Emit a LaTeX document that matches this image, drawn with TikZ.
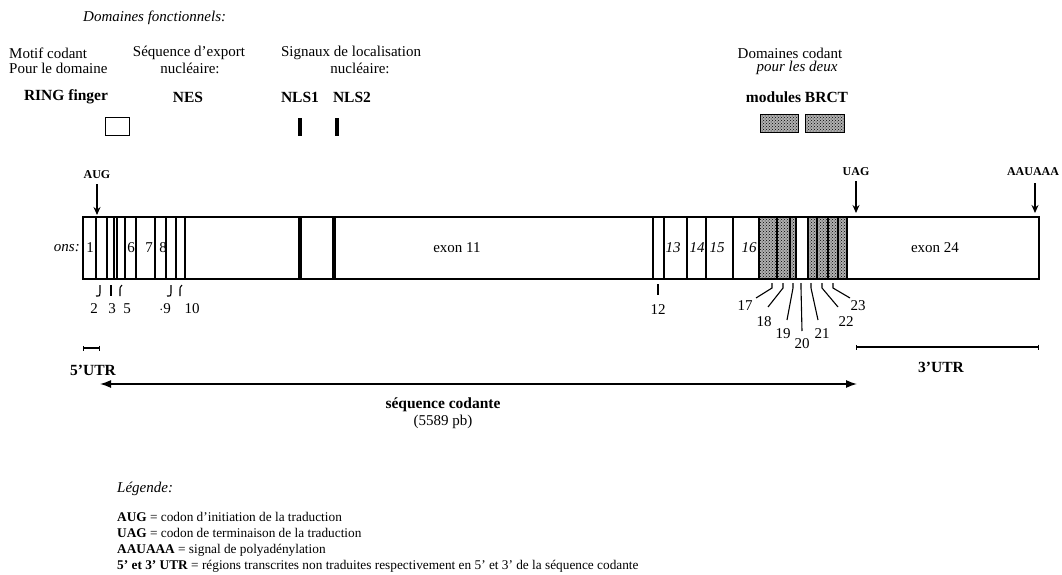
\documentclass[tikz,border=0pt]{standalone}
\usepackage{fontspec}
\setmainfont{Liberation Serif}
\usetikzlibrary{arrows.meta,patterns}
\begin{document}
\begin{tikzpicture}[x=1pt,y=-1pt,
  every node/.style={inner sep=0pt, font=\fontsize{15}{16}\selectfont},
  bl/.style={font=\fontsize{15.5}{16}\selectfont\bfseries},
  it/.style={font=\fontsize{15}{16}\selectfont\itshape},
  small/.style={font=\fontsize{12}{13}\selectfont\bfseries},
  leg/.style={anchor=west, font=\fontsize{13.3}{15}\selectfont},
  shade/.style={preaction={fill=gray!62}, pattern=crosshatch dots, pattern color=black},
  thin line/.style={line width=1.1pt},
  marker/.style={-{Stealth[length=8pt,width=7pt]}, line width=1.4pt},
]
\useasboundingbox (0,0) rectangle (1062,575);

% ---------- header ----------
\node[it, anchor=west] (df) at (83,18) {Domaines fonctionnels:};
\node[anchor=west] (mc) at (9,53) {Motif codant};
\node[anchor=west] (pd) at (9,68) {Pour le domaine};
\node (se) at (189,53) {Séquence d’export};
\node (nu1) at (190,68) {nucléaire:};
\node (sl) at (351,53) {Signaux de localisation};
\node (nu2) at (360,68) {nucléaire:};
\node (dc) at (790,53) {Domaines codant};
\node[it] (pld) at (797,68) {pour les deux};
\node[bl] (ring) at (66,97) {RING finger};
\node[bl] (nes) at (188,97) {NES};
\node[bl] (nls1) at (300,97) {NLS1};
\node[bl] (nls2) at (352,97) {NLS2};
\node[bl] (brct) at (797,97) {modules BRCT};

% domain icons
\draw[line width=1pt] (105,118) rectangle (129,135);
\fill (298,118) rectangle (302,136);
\fill (335,118) rectangle (339,136);
\draw[shade, line width=0.8pt] (760,114) rectangle (798,132);
\draw[shade, line width=0.8pt] (805,114) rectangle (844,132);

% ---------- main transcript ----------
\draw[shade] (759,217) rectangle (796,279);
\draw[shade] (808,217) rectangle (847,279);
\foreach \x in {96,107,114,117,125,136,155,166,176,185,653,664,687,706,733,759,777,790,796,808,817,828,838,847}
  \draw[thin line] (\x,217) -- (\x,279);
\fill (298,217) rectangle (302,279);
\fill (332,217) rectangle (336,279);
\draw[line width=1.3pt] (83,217) rectangle (1039,279);

\node[it, anchor=east] (ons) at (80,248) {ons:};
\node (e1) at (90,248) {1};
\node (e6) at (131,248) {6};
\node (e7) at (149,248) {7};
\node (e8) at (163,248) {8};
\node (e11) at (457,248) {exon 11};
\node[it] (e13) at (673,248) {13};
\node[it] (e14) at (697,248) {14};
\node[it] (e15) at (717,248) {15};
\node[it] (e16) at (749,248) {16};
\node (e24) at (935,248) {exon 24};

% small brackets under the first exons
\draw[line width=1.1pt] (100,285) -- (100,293) .. controls (100,296) .. (96,296);
\draw[line width=1.1pt] (111,285) -- (111,296);
\draw[line width=1.1pt] (122,285) .. controls (120,287) .. (120,291) -- (120,296);
\draw[line width=1.1pt] (171,285) -- (171,293) .. controls (171,296) .. (167,296);
\draw[line width=1.1pt] (182,285) .. controls (180,287) .. (180,291) -- (180,296);
\node (n2) at (94,309) {2};
\node (n3) at (112,309) {3};
\node (n5) at (127,309) {5};
\node (n9) at (165,309) {$\cdot$9};
\node (n10) at (192,309) {10};

\draw[line width=1.1pt] (658,284) -- (658,295);
\node (n12) at (658,310) {12};

% leader lines 17-23
\coordinate (t17) at (772,283); \coordinate (b17) at (756,298);
\coordinate (t18) at (783,283); \coordinate (b18) at (768,307);
\coordinate (t19) at (793,283); \coordinate (b19) at (787,320);
\coordinate (t20) at (801,283); \coordinate (b20) at (802,331);
\coordinate (t21) at (811,283); \coordinate (b21) at (818,320);
\coordinate (t22) at (822,283); \coordinate (b22) at (838,307);
\coordinate (t23) at (833,283); \coordinate (b23) at (850,298);
\foreach \i in {17,...,23}
  \draw[line width=1.1pt] (t\i) -- ++(0,5) -- (b\i);
\node (n17) at (745,306) {17};
\node (n18) at (764,322) {18};
\node (n19) at (783,334) {19};
\node (n20) at (802,344) {20};
\node (n21) at (822,334) {21};
\node (n22) at (846,322) {22};
\node (n23) at (858,306) {23};

% AUG / UAG / AAUAAA
\node[small] (aug) at (97,175) {AUG};
\coordinate (augT) at (97,215);
\draw[marker] (aug.south) ++(0,5) -- (augT);
\node[small] (uag) at (856,172) {UAG};
\coordinate (uagT) at (856,213);
\draw[marker] (uag.south) ++(0,5) -- (uagT);
\node[small] (aau) at (1033,172) {AAUAAA};
\coordinate (aauT) at (1035,213);
\draw[marker] (1035,183) -- (aauT);

% UTRs
\coordinate (u5a) at (83,348); \coordinate (u5b) at (100,348);
\draw[line width=1.3pt, {Bar[width=5pt]}-{Bar[width=5pt]}] (u5a) -- (u5b);
\node[bl] (utr5) at (93,370) {5’UTR};
\coordinate (u3a) at (856,347); \coordinate (u3b) at (1039,347);
\draw[line width=1.3pt, {Bar[width=5pt]}-{Bar[width=5pt]}] (u3a) -- (u3b);
\node[bl] (utr3) at (941,367) {3’UTR};

% coding sequence
\coordinate (csA) at (100,384); \coordinate (csB) at (857,384);
\draw[line width=1.4pt, {Latex[length=11pt,width=8pt]}-{Latex[length=11pt,width=8pt]}] (csA) -- (csB);
\node[bl] (sc) at (443,405) {séquence codante};
\node (pb) at (443,422) {(5589 pb)};

% legend
\node[it, anchor=west] (lg) at (117,489) {Légende:};
\node[leg] (l1) at (117,517) {\textbf{AUG} = codon d’initiation de la traduction};
\node[leg] (l2) at (117,533) {\textbf{UAG} = codon de terminaison de la traduction};
\node[leg] (l3) at (117,550) {\textbf{AAUAAA} = signal de polyadénylation};
\node[leg] (l4) at (117,566) {\textbf{5’ et 3’ UTR} = régions transcrites non traduites respectivement en 5’ et 3’ de la séquence codante};
\end{tikzpicture}
\end{document}
